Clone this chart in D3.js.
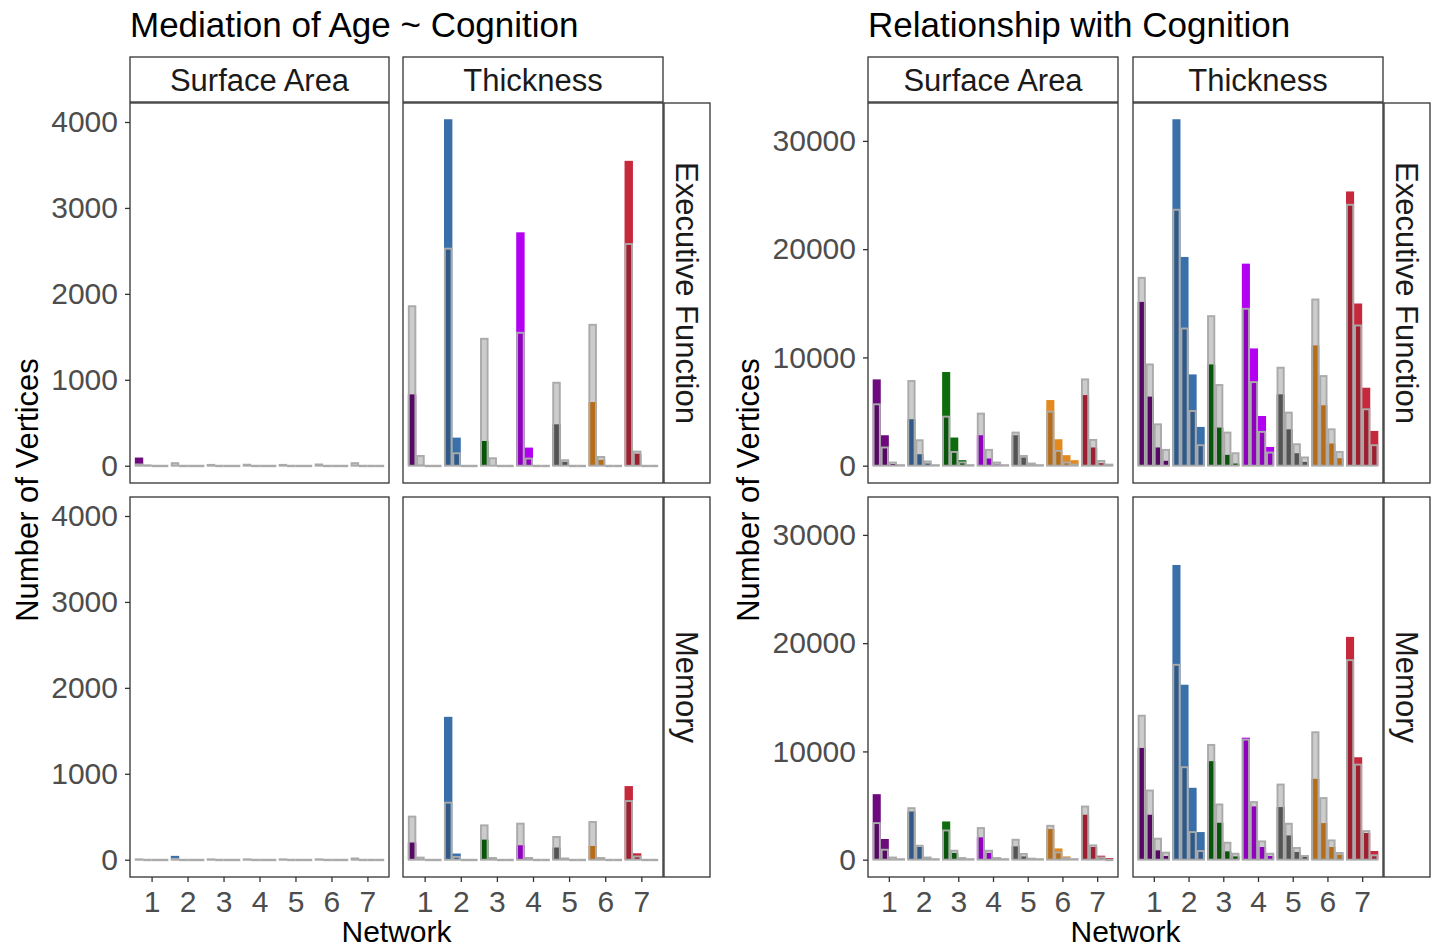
<!DOCTYPE html>
<html>
<head>
<meta charset="utf-8">
<script src="https://cdn.jsdelivr.net/npm/d3@7"></script>
<style>
  body { margin: 0; background: #fff; }
  svg { display: block; }
  text { font-family: "Liberation Sans", Arial, Helvetica, sans-serif; }
</style>
</head>
<body>
<svg id="chart" width="1434" height="949"></svg>
<script>
// categories
const networks = ["1", "2", "3", "4", "5", "6", "7"];
const measures = ["Surface Area", "Thickness"];
const domains = ["Executive Function", "Memory"];
const netColors = ["#6c0a7e", "#3a70aa", "#0c6c0e", "#b400f2", "#6a6a6a", "#e4891f", "#c6283c"];

// each row = one network, 4 sub-bars; "sig" = coloured bar, "ref" = grey overlay bar
// Mediation of Age ~ Cognition
const medSaEfSig = [[95,3,0,0],[3,0,0,0],[2,0,0,0],[2,0,0,0],[2,0,0,0],[2,0,0,0],[3,0,0,0]];
const medSaEfRef = [[15,5,0,0],[30,0,0,0],[10,0,0,0],[12,0,0,0],[10,0,0,0],[15,0,0,0],[30,0,0,0]];
const medThEfSig = [[830,10,0,0],[4032,327,0,0],[288,5,0,0],[2716,211,0,0],[482,45,0,0],[741,68,0,0],[3548,140,0,0]];
const medThEfRef = [[1856,114,0,0],[2526,145,0,0],[1477,87,0,0],[1547,83,0,0],[966,64,0,0],[1640,102,0,0],[2580,165,0,0]];
const medSaMemSig = [[2,0,0,0],[45,0,0,0],[1,0,0,0],[1,0,0,0],[1,0,0,0],[1,0,0,0],[2,0,0,0]];
const medSaMemRef = [[5,0,0,0],[10,0,0,0],[5,0,0,0],[5,0,0,0],[5,0,0,0],[5,0,0,0],[15,0,0,0]];
const medThMemSig = [[200,3,0,0],[1663,72,0,0],[234,3,0,0],[168,3,0,0],[142,3,0,0],[160,3,0,0],[857,75,0,0]];
const medThMemRef = [[502,25,0,0],[664,33,0,0],[400,20,0,0],[420,20,0,0],[265,15,0,0],[439,20,0,0],[683,38,0,0]];

// Relationship with Cognition
const relSaEfSig = [[7970,2810,150,0],[4290,1060,200,0],[8650,2600,510,0],[2810,660,100,0],[2810,750,100,0],[6060,2440,970,510],[6520,1680,230,0]];
const relSaEfRef = [[5670,1680,290,50],[7820,2350,390,50],[4530,1270,300,50],[4810,1460,290,50],[3060,900,200,50],[4990,1360,290,100],[7970,2380,440,100]];
const relThEfSig = [[15130,6380,1680,450],[32000,19280,8430,3580],[9350,3520,1000,200],[18660,10830,4590,1730],[6590,3360,1150,350],[11110,5580,2050,690],[25330,14980,7200,3210]];
const relThEfRef = [[17350,9350,3820,1460],[23640,12670,5050,1890],[13810,7450,3060,1150],[14490,7720,3120,1210],[9050,4900,1980,760],[15350,8280,3360,1270],[24100,12950,5210,1890]];
const relSaMemSig = [[6050,1910,0,0],[4450,1170,100,0],[3530,620,50,0],[2060,620,50,0],[1230,300,30,0],[2830,1040,300,0],[4150,1170,370,150]];
const relSaMemRef = [[3380,920,200,50],[4760,1290,200,50],[2700,830,150,50],[2920,830,150,50],[1840,530,100,50],[3130,670,150,50],[4910,1320,200,0]];
const relThMemSig = [[10320,4150,860,340],[27220,16160,6640,2550],[9100,3410,770,300],[11270,4920,1170,340],[4860,2240,710,250],[7470,3380,1170,460],[20580,9460,2460,800]];
const relThMemRef = [[13300,6390,1940,650],[18000,8540,2550,800],[10600,5100,1570,550],[11090,5320,1690,550],[6940,3320,1080,340],[11770,5690,1780,620],[18430,8780,2640,400]];

// axis ticks
const medTicks = [0, 1000, 2000, 3000, 4000];
const relTicks = [0, 10000, 20000, 30000];

const svg = d3.select("#chart");
const tickColor = "#4d4d4d";
const lineColor = "#333333";

const charts = [
  {
    title: "Mediation of Age ~ Cognition",
    cols: [[130, 389], [403, 663]],
    stripRight: [664, 710],
    yDomain: [-201, 4221],
    ticks: medTicks,
    yTitleX: 38,
    panels: [[[medSaEfSig, medSaEfRef], [medThEfSig, medThEfRef]],
             [[medSaMemSig, medSaMemRef], [medThMemSig, medThMemRef]]]
  },
  {
    title: "Relationship with Cognition",
    cols: [[868, 1118], [1133, 1383]],
    stripRight: [1384, 1430],
    yDomain: [-1600, 33500],
    ticks: relTicks,
    yTitleX: 759,
    panels: [[[relSaEfSig, relSaEfRef], [relThEfSig, relThEfRef]],
             [[relSaMemSig, relSaMemRef], [relThMemSig, relThMemRef]]]
  }
];
const rows = [[103, 483], [497, 877]];
const stripTop = [57, 102];

charts.forEach(chart => {
  const g = svg.append("g");

  // title
  g.append("text")
    .attr("x", chart.cols[0][0])
    .attr("y", 37)
    .attr("font-size", 35)
    .attr("fill", "#000")
    .text(chart.title);

  // top strips
  chart.cols.forEach((c, ci) => {
    g.append("rect")
      .attr("x", c[0]).attr("y", stripTop[0])
      .attr("width", c[1] - c[0]).attr("height", stripTop[1] - stripTop[0])
      .attr("fill", "#fff").attr("stroke", lineColor).attr("stroke-width", 1.3);
    g.append("text")
      .attr("x", (c[0] + c[1]) / 2).attr("y", 91)
      .attr("text-anchor", "middle").attr("font-size", 31).attr("fill", "#1a1a1a")
      .text(measures[ci]);
  });

  rows.forEach((r, ri) => {
    const y = d3.scaleLinear().domain(chart.yDomain).range([r[1], r[0]]);

    // right strip
    const sr = chart.stripRight;
    g.append("rect")
      .attr("x", sr[0]).attr("y", r[0])
      .attr("width", sr[1] - sr[0]).attr("height", r[1] - r[0])
      .attr("fill", "#fff").attr("stroke", lineColor).attr("stroke-width", 1.3);
    g.append("text")
      .attr("transform", `translate(${(sr[0] + sr[1]) / 2 - 11},${(r[0] + r[1]) / 2}) rotate(90)`)
      .attr("text-anchor", "middle").attr("font-size", 31).attr("fill", "#1a1a1a")
      .text(domains[ri]);

    chart.cols.forEach((c, ci) => {
      const [sig, ref] = chart.panels[ri][ci];
      const x = d3.scalePoint().domain(networks).range([c[0], c[1]]).padding(0.6);
      const groupW = x.step() * 0.93;
      const sub = d3.scaleBand().domain([0, 1, 2, 3]).range([-groupW / 2, groupW / 2]);

      const panel = g.append("g");
      panel.append("rect")
        .attr("x", c[0]).attr("y", r[0])
        .attr("width", c[1] - c[0]).attr("height", r[1] - r[0])
        .attr("fill", "#fff");

      const cells = [];
      networks.forEach((n, ni) => {
        for (let k = 0; k < 4; k++) {
          cells.push({ net: n, ni: ni, k: k, sig: sig[ni][k], ref: ref[ni][k] });
        }
      });

      // coloured bars
      panel.append("g").selectAll("rect")
        .data(cells.filter(d => d.sig > 0))
        .join("rect")
        .attr("x", d => x(d.net) + sub(d.k))
        .attr("width", sub.bandwidth())
        .attr("y", d => y(d.sig))
        .attr("height", d => y(0) - y(d.sig))
        .attr("fill", d => netColors[d.ni]);

      // grey overlay bars
      panel.append("g").selectAll("rect")
        .data(cells)
        .join("rect")
        .attr("x", d => x(d.net) + sub(d.k) + 0.9)
        .attr("width", sub.bandwidth() - 1.8)
        .attr("y", d => y(d.ref))
        .attr("height", d => Math.max(0.5, y(0) - y(d.ref)))
        .attr("fill", "#000").attr("fill-opacity", 0.2)
        .attr("stroke", "#aaaaaa").attr("stroke-width", 1.9);

      // border
      panel.append("rect")
        .attr("x", c[0]).attr("y", r[0])
        .attr("width", c[1] - c[0]).attr("height", r[1] - r[0])
        .attr("fill", "none").attr("stroke", lineColor).attr("stroke-width", 1.3);

      // y axis on the first column
      if (ci === 0) {
        const ya = g.append("g")
          .attr("transform", `translate(${c[0]},0)`)
          .call(d3.axisLeft(y).tickValues(chart.ticks).tickSize(5).tickPadding(7).tickFormat(d3.format("d")));
        ya.select(".domain").remove();
        ya.selectAll("line").attr("stroke", lineColor).attr("stroke-width", 1.3);
        ya.selectAll("text").attr("font-size", 30).attr("fill", tickColor)
          .attr("font-family", "Liberation Sans, Arial, sans-serif");
      }

      // x axis on the bottom row
      if (ri === 1) {
        const xa = g.append("g")
          .attr("transform", `translate(0,${r[1]})`)
          .call(d3.axisBottom(x).tickSize(5).tickPadding(8.5));
        xa.select(".domain").remove();
        xa.selectAll("line").attr("stroke", lineColor).attr("stroke-width", 1.3);
        xa.selectAll("text").attr("font-size", 30).attr("fill", tickColor)
          .attr("font-family", "Liberation Sans, Arial, sans-serif");
      }
    });
  });

  // axis titles
  const left = chart.cols[0][0];
  const right = chart.cols[1][1];
  g.append("text")
    .attr("x", (left + right) / 2).attr("y", 942)
    .attr("text-anchor", "middle").attr("font-size", 30).attr("fill", "#000")
    .text("Network");
  g.append("text")
    .attr("transform", `translate(${chart.yTitleX},490) rotate(-90)`)
    .attr("text-anchor", "middle").attr("font-size", 31).attr("fill", "#000")
    .text("Number of Vertices");
});
</script>
</body>
</html>
